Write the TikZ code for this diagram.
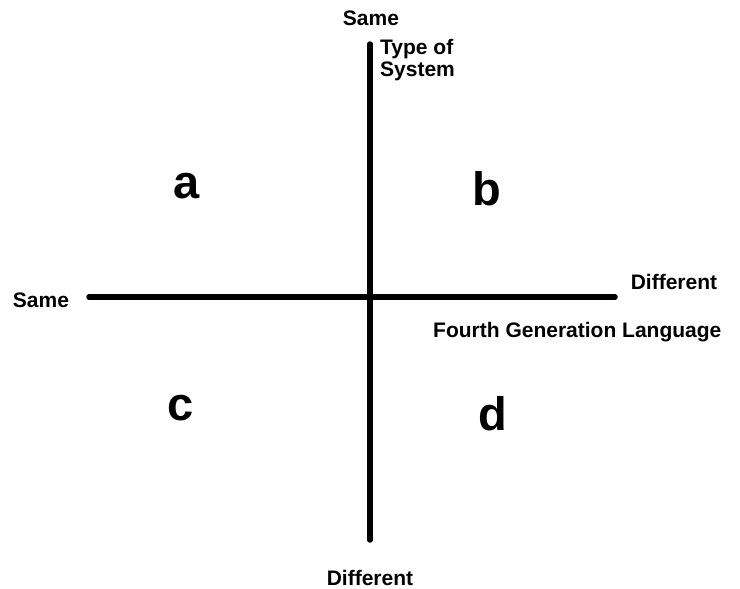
\documentclass[tikz,border=0pt]{standalone}
\usepackage{fontspec}
\setmainfont{Liberation Sans}
\begin{document}
\begin{tikzpicture}[x=1pt,y=-1pt,
  axis/.style={line width=5.5pt, line cap=round},
  lbl/.style={font=\bfseries\fontsize{21}{22}\selectfont, inner sep=0pt, anchor=base},
  quad/.style={font=\bfseries\fontsize{47}{50}\selectfont, inner sep=0pt, anchor=base}]
\useasboundingbox[fill=white] (0,0) rectangle (740,589);
\coordinate (vtop) at (370,44);
\coordinate (vbot) at (370,540);
\coordinate (hl) at (89,297);
\coordinate (hr) at (615,297);
\draw[axis] (vtop) -- (vbot);
\draw[axis] (hl) -- (hr);
\node[lbl] (sametop) at (371,25) {Same};
\node[lbl, anchor=base west, align=left] (type) at (380,76) {Type of\\System};
\node[lbl] (sameleft) at (41,307) {Same};
\node[lbl] (diffright) at (674,289) {Different};
\node[lbl, anchor=base west] (fgl) at (433,337) {Fourth Generation Language};
\node[lbl] (diffbot) at (370,585) {Different};
\node[quad] (a) at (187,198) {a};
\node[quad] (b) at (487,205) {b};
\node[quad] (c) at (181,420) {c};
\node[quad] (d) at (493,430) {d};
\end{tikzpicture}
\end{document}
